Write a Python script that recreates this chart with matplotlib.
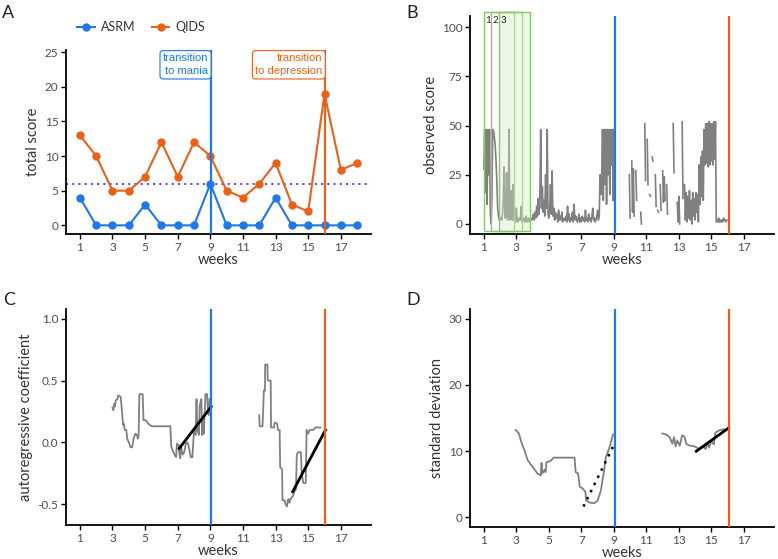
import numpy as np
import matplotlib.pyplot as plt
from matplotlib.patches import Rectangle

plt.rcParams['font.family'] = ['Lato', 'DejaVu Sans']

# ---- data ----
weeks = np.arange(1, 19)
asrm = [4, 0, 0, 0, 3, 0, 0, 0, 6, 0, 0, 0, 4, 0, 0, 0, 0, 0]
qids = [13, 10, 5, 5, 7, 12, 7, 12, 10, 5, 4, 6, 9, 3, 2, 19, 8, 9]
qids_cutoff = 6
mania_week = 9.06
depression_week = 16.06
week_ticks = np.arange(1, 18, 2)

# observed score, sampled every 0.05 week from week 1 to week 16
nan = np.nan
obs_rows = [
    [28, 48, 16, 48, 10, 48, 25, 48, 5, 0, 14, 48, 47, 44, 40, 32, 22, 8, 4, 2],
    [2, 3, 2, 5, 12, 29, 3, 4, 26, 2, 3, 48, 2, 3, 17, 2, 20, 2, 3, 1],
    [8, 2, 1, 3, 2, 2, 9, 1, 2, 3, 1, 2, 4, 1, 2, 3, 1, 2, 3, 2],
    [3, 5, 2, 6, 3, 9, 4, 13, 5, 16, 48, 8, 19, 6, 12, 4, 25, 8, 48, 5],
    [3, 6, 20, 5, 27, 4, 8, 2, 6, 3, 5, 1, 7, 2, 4, 2, 6, 1, 3, 2],
    [2, 4, 1, 9, 2, 5, 1, 3, 2, 6, 1, 10, 2, 4, 3, 1, 2, 5, 1, 3],
    [1, 4, 2, 3, 1, 7, 2, 3, 1, 5, 2, 3, 1, 4, 8, 2, 3, 1, 2, 4],
    [7, 2, 4, 25, 15, 22, 48, 12, 48, 20, 48, 10, 48, 25, 48, 15, 48, 30, 48, 12],
    [48] + [nan] * 18 + [25],
    [3, nan, 32, 6, 28, 4, nan, 27, 12, nan, nan, nan, nan, 6, 0, nan, nan, nan, 51, 22],
    [nan, 43, 20, nan, 15, 14, nan, 34, 32, nan, nan, 25, 9, nan, 7, 6, nan, 20, 7, nan],
    [27, 11, 24, 12, nan, 20, 5, nan, nan, nan, nan, nan, nan, 51, 26, nan, nan, nan, 11, 1],
    [14, 0, nan, nan, 52, 13, nan, 20, 2, 16, 1, 14, 3, 17, 2, 12, 0, 16, 4, 13],
    [2, 16, 6, 15, 1, 30, 10, 34, 14, 37, 12, 48, 30, 51, 31, 51, 29, 52, 30, 51],
    [32, 51, 30, 52, 33, 52, 1, 2, 1, 3, 1, 2, 1, 2, 1, 3, 2, 2, 1, 2],
    [nan],
]
obs_score = np.concatenate([np.array(r, dtype=float) for r in obs_rows])
obs_weeks = 1 + 0.05 * np.arange(len(obs_score))

window_starts = [1.0, 1.45, 1.96]
window_length = 1.87

# autoregressive coefficient (two stretches)
ar_weeks_1 = [3.0, 3.05, 3.1, 3.15, 3.2, 3.3, 3.35, 3.5, 3.55, 3.6, 3.65, 3.7, 3.75, 3.85, 3.9, 4.0,
              4.1, 4.2, 4.3, 4.4, 4.5, 4.55, 4.6, 4.65, 4.85, 4.9, 5.0, 5.1, 5.2, 5.3, 5.4, 6.55,
              6.6, 6.7, 6.8, 6.9, 6.95, 7.05, 7.1, 7.15, 7.2, 7.3, 7.4, 7.5, 7.6, 7.7, 7.8, 7.9,
              8.0, 8.1, 8.15, 8.2, 8.3, 8.35, 8.45, 8.5, 8.55, 8.6, 8.7, 8.8, 8.85, 8.9, 8.95]
ar_vals_1 = [0.28, 0.26, 0.31, 0.29, 0.34, 0.35, 0.38, 0.37, 0.30, 0.22, 0.14, 0.15, 0.10, 0.10, 0.03, 0.0,
             -0.04, -0.04, 0.03, 0.07, 0.06, 0.03, 0.05, 0.39, 0.39, 0.18, 0.18, 0.17, 0.15, 0.14, 0.13, 0.13,
             -0.03, -0.07, -0.10, -0.12, -0.01, -0.02, -0.09, -0.13, -0.03, -0.10, -0.08, -0.01, 0.0, -0.05, -0.12, -0.12,
             0.10, 0.06, 0.35, 0.10, 0.06, 0.30, 0.35, 0.06, 0.20, 0.07, 0.39, 0.39, 0.25, 0.22, 0.35]
ar_weeks_2 = [12.0, 12.02, 12.2, 12.25, 12.28, 12.35, 12.36, 12.5, 12.52, 12.7, 12.72, 12.9, 12.95, 13.1,
              13.15, 13.25, 13.28, 13.4, 13.42, 13.55, 13.6, 13.7, 13.75, 13.8, 13.85, 13.95, 14.05, 14.15,
              14.25, 14.3, 14.4, 14.55, 14.6, 14.7, 14.85, 14.9, 15.0, 15.1, 15.3, 15.45, 15.6, 15.75]
ar_vals_2 = [0.22, 0.13, 0.13, 0.30, 0.42, 0.42, 0.63, 0.63, 0.50, 0.50, 0.12, 0.12, 0.16, 0.15,
             0.10, 0.10, -0.20, -0.22, -0.47, -0.47, -0.50, -0.52, -0.47, -0.46, -0.49, -0.45, -0.44, -0.40,
             -0.38, -0.10, -0.08, -0.08, -0.25, -0.33, -0.33, 0.10, 0.07, 0.10, 0.10, 0.12, 0.12, 0.12]
ar_fit_mania = ([7.09, 9.06], [-0.05, 0.29])
ar_fit_depr = ([14.05, 16.06], [-0.40, 0.10])

# standard deviation (two stretches)
sd_weeks_1 = [2.95, 3.15, 3.3, 3.5, 3.7, 4.0, 4.3, 4.5, 4.55, 4.6, 4.75, 4.8, 4.85, 5.1, 5.3, 6.58,
              6.65, 6.8, 6.9, 7.1, 7.25, 7.3, 7.5, 7.8, 8.0, 8.2, 8.3, 8.4, 8.5, 8.75, 8.95]
sd_vals_1 = [13.2, 12.7, 11.4, 10.1, 8.6, 7.6, 6.6, 6.3, 8.2, 6.6, 7.2, 6.8, 8.3, 8.5, 9.0, 9.0,
             6.8, 6.6, 4.6, 4.3, 3.8, 2.5, 2.2, 2.1, 2.5, 4.0, 5.6, 7.0, 9.0, 10.7, 12.5]
sd_weeks_2 = [11.98, 12.22, 12.43, 12.6, 12.7, 12.8, 12.9, 13.05, 13.2, 13.35, 13.45, 13.65, 13.85,
              14.05, 14.25, 14.45, 14.65, 14.75, 14.85, 15.0, 15.15, 15.25, 15.45, 15.75]
sd_vals_2 = [12.65, 12.5, 12.1, 11.1, 12.1, 10.7, 11.6, 10.8, 12.4, 12.1, 11.1, 10.8, 10.8,
             10.6, 10.3, 10.7, 10.3, 11.3, 10.5, 11.5, 11.0, 12.8, 13.1, 13.3]
sd_fit_mania = ([7.13, 9.0], [1.6, 10.9])
sd_fit_depr = ([14.07, 16.06], [9.97, 13.5])

# ---- style ----
blue = '#1f78e6'
orange = '#e8611a'
grey = '#808080'
tick_col = '#4d4d4d'
title_col = '#333333'

W, H = 778, 559
fig = plt.figure(figsize=(W / 100, H / 100), dpi=100)


def px_axes(left, top, right, bottom):
    return fig.add_axes([left / W, 1 - bottom / H, (right - left) / W, (bottom - top) / H])


def style(ax, ylim, yticks, ylabel):
    ax.set_xlim(0.15, 18.85)
    ax.set_xticks(week_ticks)
    ax.set_ylim(*ylim)
    ax.set_yticks(yticks)
    ax.spines[['top', 'right']].set_visible(False)
    ax.spines[['left', 'bottom']].set_linewidth(1.3)
    ax.tick_params(length=3.5, width=1, colors='black', labelcolor=tick_col, labelsize=8.5, pad=2)
    ax.set_xlabel('weeks', fontsize=10.5, color=title_col, labelpad=0)
    ax.set_ylabel(ylabel, fontsize=10.5, color=title_col, labelpad=3)
    ax.axvline(mania_week, color=blue, lw=1.6, zorder=4)
    ax.axvline(depression_week, color=orange, lw=1.6, zorder=4)


# A: weekly questionnaires
axA = px_axes(66, 50, 371, 234)
style(axA, (-1.25, 25.3), [0, 5, 10, 15, 20, 25], 'total score')
axA.axhline(qids_cutoff, color='#6a2ee8', lw=1.4, ls=(0, (1, 2.2)), zorder=1)
l1, = axA.plot(weeks, asrm, '-o', color=blue, lw=1.5, ms=5, zorder=3)
l2, = axA.plot(weeks, qids, '-o', color=orange, lw=1.5, ms=5, zorder=3)
for wk, txt, col in [(mania_week, 'transition\nto mania', blue),
                     (depression_week, 'transition\nto depression', orange)]:
    axA.annotate(txt, xy=(wk, 25.25), xytext=(-2.2, -2.2), textcoords='offset points',
                 ha='right', va='top', color=col, fontsize=8, linespacing=1.35,
                 family=['Liberation Sans', 'DejaVu Sans'],
                 bbox=dict(boxstyle='round,pad=0.25,rounding_size=0.3', fc='white', ec=col, lw=0.8),
                 zorder=5)
fig.legend([l1, l2], ['ASRM', 'QIDS'], loc='center left', bbox_to_anchor=(66 / W, 1 - 27 / H),
           ncol=2, frameon=False, fontsize=9, handlelength=1.4, handletextpad=0.5,
           columnspacing=1.3, labelcolor=title_col)

# B: observed score
axB = px_axes(470, 16, 774, 234)
style(axB, (-5.1, 105.7), [0, 25, 50, 75, 100], 'observed score')
axB.plot(obs_weeks, obs_score, color=grey, lw=1.2, zorder=2)
for i, start in enumerate(window_starts):
    last = i == len(window_starts) - 1
    axB.add_patch(Rectangle((start, -3.5), window_length, 111, fc='#d9edc8' if last else 'none',
                            alpha=0.4 if last else 1, ec='none', zorder=3, clip_on=False))
    axB.add_patch(Rectangle((start, -3.5), window_length, 111, fc='none', ec='#8cc46e',
                            lw=1, zorder=3, clip_on=False))
    axB.text(start + 0.08, 103.5, str(i + 1), fontsize=7, color='#222222', va='center', ha='left', zorder=4)

# C: autoregressive coefficient
axC = px_axes(66, 309, 371, 525)
style(axC, (-0.67, 1.08), [-0.5, 0.0, 0.5, 1.0], 'autoregressive coefficient')
axC.set_yticklabels(['-0.5', '0.0', '0.5', '1.0'])
axC.plot(ar_weeks_1, ar_vals_1, color=grey, lw=1.3)
axC.plot(ar_weeks_2, ar_vals_2, color=grey, lw=1.3)
axC.plot(*ar_fit_mania, color='black', lw=2, zorder=3)
axC.plot(*ar_fit_depr, color='black', lw=2, zorder=3)

# D: standard deviation
axD = px_axes(470, 309, 774, 527)
style(axD, (-1.5, 31.5), [0, 10, 20, 30], 'standard deviation')
axD.plot(sd_weeks_1, sd_vals_1, color=grey, lw=1.3)
axD.plot(sd_weeks_2, sd_vals_2, color=grey, lw=1.3)
axD.plot(*sd_fit_mania, color='black', lw=1.8, ls=(0, (1, 2.2)), zorder=3)
axD.plot(*sd_fit_depr, color='black', lw=2, zorder=3)

for x, y, lab in [(2, 5, 'A'), (406, 5, 'B'), (3, 292, 'C'), (406, 292, 'D')]:
    fig.text(x / W, 1 - y / H, lab, fontsize=13, va='top', ha='left', color='#222222')

fig.savefig('out.png', dpi=100)
